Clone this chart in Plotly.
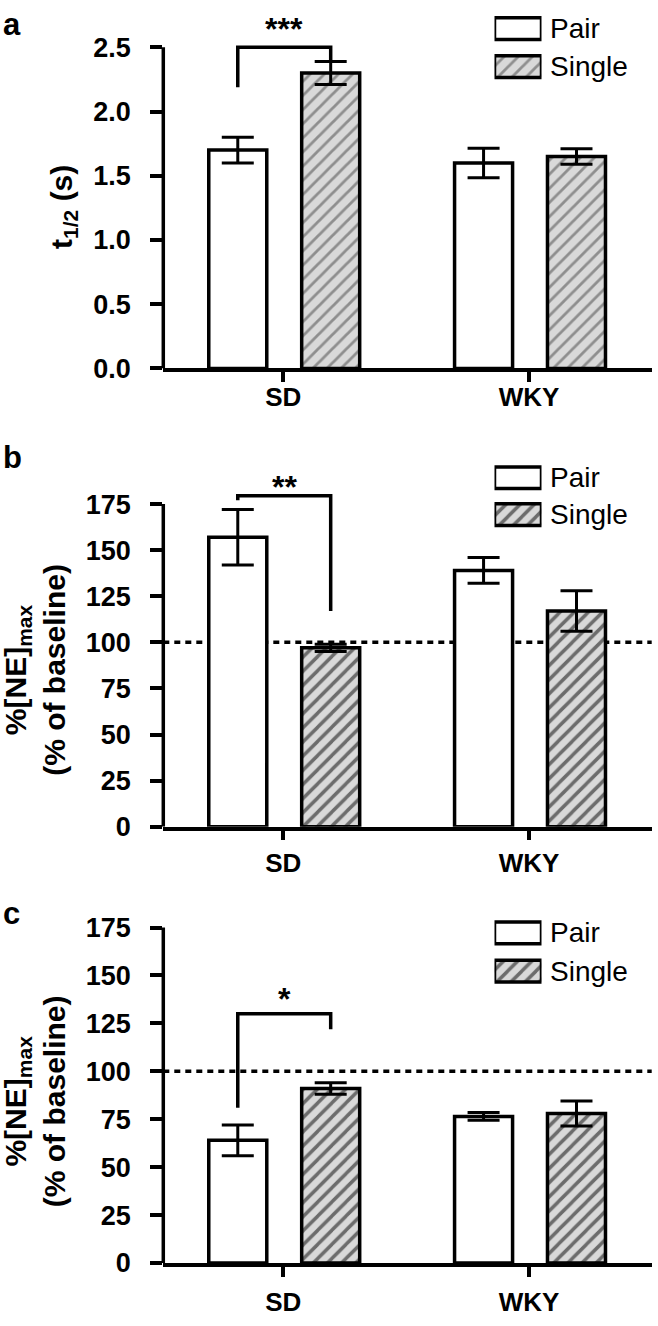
import plotly.graph_objects as go

W, H = 658, 1326

# ---------------- data ----------------
groups = ["SD", "WKY"]
group_pos = [0, 1]
series_names = ["Pair", "Single"]

# panel a : t1/2 (s)
a_pair = [1.70, 1.60]
a_pair_err = [0.10, 0.115]
a_single = [2.30, 1.65]
a_single_err = [0.09, 0.06]

# panel b : %[NE]max (% of baseline)
b_pair = [157, 139]
b_pair_err = [15, 7]
b_single = [97, 117]
b_single_err = [2, 11]

# panel c : %[NE]max (% of baseline)
c_pair = [64, 76.5]
c_pair_err = [8, 2]
c_single = [91, 78]
c_single_err = [3, 6.5]

a_ticks = [0.0, 0.5, 1.0, 1.5, 2.0, 2.5]
bc_ticks = [0, 25, 50, 75, 100, 125, 150, 175]
baseline = 100

sig_labels = ["***", "**", "*"]
# bracket: [left leg end, top, right leg end]
a_bracket = [2.19, 2.5, 2.39]
b_bracket = [177, 179.5, 117]
c_bracket = [81, 130, 122]
star_y = [2.646, 184.4, 137.8]

# ---------------- layout helpers ----------------
FONT = "Liberation Sans, Arial, sans-serif"
LW = 3.5
BW = 0.236
OFF_PAIR = -0.303
OFF_SINGLE = 0.075
C_PAIR = OFF_PAIR + BW / 2
C_SINGLE = OFF_SINGLE + BW / 2
XR = [-0.488, 1.499]
XDOM = [163.3 / W, 651.7 / W]


def py(p):
    return 1 - p / H


panels = [
    dict(letter="a", zero_px=369.0, top_px=43.0, top_val=2.5, ymax=2.8,
         pair=a_pair, pair_err=a_pair_err, single=a_single, single_err=a_single_err,
         ticks=a_ticks, fmt=".1f", bracket=a_bracket, title="t<sub>1/2</sub> (s)",
         title_xy=(64, 205), letter_y=0, legend_c=(24, 62.5), dashed=False,
         hatch_fg="#444444", hatch_sol=0.28, xstand=-7),
    dict(letter="b", zero_px=834.3, top_px=506.7, top_val=175, ymax=185,
         pair=b_pair, pair_err=b_pair_err, single=b_single, single_err=b_single_err,
         ticks=bc_ticks, fmt="d", bracket=b_bracket,
         title="%[NE]<sub>max</sub><br>(% of baseline)",
         title_xy=(35, 675), letter_y=440, legend_c=(480, 517.5), dashed=True,
         hatch_fg="#000000", hatch_sol=0.35, xstand=0),
    dict(letter="c", zero_px=1277.3, top_px=936.7, top_val=175, ymax=180,
         pair=c_pair, pair_err=c_pair_err, single=c_single, single_err=c_single_err,
         ticks=bc_ticks, fmt="d", bracket=c_bracket,
         title="%[NE]<sub>max</sub><br>(% of baseline)",
         title_xy=(35, 1113), letter_y=903, legend_c=(942, 981), dashed=True,
         hatch_fg="#000000", hatch_sol=0.35, xstand=3),
]

fig = go.Figure()
layout = dict(
    width=W, height=H, margin=dict(l=0, r=0, t=0, b=0),
    paper_bgcolor="white", plot_bgcolor="white", showlegend=False,
    font=dict(family=FONT, color="black"),
)
shapes = []
annotations = []

for i, p in enumerate(panels):
    n = i + 1
    xs = "" if n == 1 else str(n)
    xa, ya = "x" + xs, "y" + xs
    unit = (p["zero_px"] - p["top_px"]) / p["top_val"]
    dom_top_px = p["zero_px"] - p["ymax"] * unit
    ydom = [py(p["zero_px"]), py(dom_top_px)]

    pattern = dict(shape="/", bgcolor="#d9d9d9", fgcolor=p["hatch_fg"],
                   size=10, solidity=p["hatch_sol"], fillmode="overlay")

    fig.add_trace(go.Bar(
        x=group_pos, y=p["pair"], name=series_names[0], width=BW, offset=OFF_PAIR,
        marker=dict(color="white", line=dict(color="black", width=LW)),
        error_y=dict(type="data", array=p["pair_err"], color="black", thickness=3, width=16),
        xaxis=xa, yaxis=ya, hoverinfo="skip"))
    fig.add_trace(go.Bar(
        x=group_pos, y=p["single"], name=series_names[1], width=BW, offset=OFF_SINGLE,
        marker=dict(color="#d9d9d9", pattern=pattern, line=dict(color="black", width=LW)),
        error_y=dict(type="data", array=p["single_err"], color="black", thickness=3, width=16),
        xaxis=xa, yaxis=ya, hoverinfo="skip"))

    layout["xaxis" + xs] = dict(
        domain=XDOM, range=XR, anchor=ya, tickmode="array", tickvals=group_pos,
        ticktext=groups, ticks="outside", ticklen=10, tickwidth=LW, tickcolor="black",
        showline=True, linewidth=LW, linecolor="black", showgrid=False, zeroline=False,
        ticklabelstandoff=p["xstand"],
        tickfont=dict(size=26, family=FONT, weight="bold", color="black"), fixedrange=True)
    layout["yaxis" + xs] = dict(
        domain=ydom, range=[0, p["ymax"]], anchor=xa, tickmode="array", tickvals=p["ticks"],
        tickformat=p["fmt"], ticks="outside", ticklen=12, tickwidth=LW, tickcolor="black",
        showline=False, showgrid=False, zeroline=False, ticklabelstandoff=14,
        tickfont=dict(size=27, family=FONT, weight="bold", color="black"), fixedrange=True)

    # y axis line (0 .. top tick)
    shapes.append(dict(type="line", xref=xa + " domain", yref=ya, x0=0, x1=0,
                       y0=0, y1=p["ticks"][-1], line=dict(color="black", width=LW), layer="above"))
    # baseline reference line
    if p["dashed"]:
        shapes.append(dict(type="line", xref=xa + " domain", yref=ya, x0=0, x1=1,
                           y0=baseline, y1=baseline,
                           line=dict(color="black", width=LW, dash="6px,5px"), layer="below"))
    # significance bracket
    bl, bt, br = p["bracket"]
    shapes.append(dict(type="path", xref=xa, yref=ya,
                       path=f"M{C_PAIR},{bl} L{C_PAIR},{bt} L{C_SINGLE},{bt} L{C_SINGLE},{br}",
                       line=dict(color="black", width=LW), layer="above"))
    annotations.append(dict(xref=xa, yref=ya, x=(C_PAIR + C_SINGLE) / 2, y=star_y[i],
                            text=sig_labels[i], showarrow=False, xanchor="center", yanchor="middle",
                            font=dict(size=32, family=FONT, weight="bold")))

    # panel letter
    annotations.append(dict(xref="paper", yref="paper", x=1 / W, y=py(p["letter_y"]),
                            text=p["letter"], showarrow=False, xanchor="left", yanchor="top",
                            font=dict(size=31, family=FONT, weight="bold")))
    # y title
    tx, ty = p["title_xy"]
    annotations.append(dict(xref="paper", yref="paper", x=tx / W, y=py(ty), text=p["title"],
                            textangle=-90, showarrow=False, xanchor="center", yanchor="middle",
                            font=dict(size=30, family=FONT, weight="bold")))

    # legend swatches in a small inset axis
    lc_pair, lc_single = p["legend_c"]
    step = lc_single - lc_pair
    lx, ly = "x" + str(n + 3), "y" + str(n + 3)
    layout["xaxis" + str(n + 3)] = dict(domain=[494.5 / W, 541.5 / W], range=[0, 1],
                                        anchor=ly, visible=False, fixedrange=True)
    layout["yaxis" + str(n + 3)] = dict(domain=[py(lc_single + step / 2), py(lc_pair - step / 2)],
                                        range=[-0.5, 1.5], anchor=lx, visible=False, fixedrange=True)
    sw = 22 / step
    fig.add_trace(go.Bar(x=[1], y=[1], orientation="h", width=sw, cliponaxis=False,
                         marker=dict(color="white", line=dict(color="black", width=LW)),
                         xaxis=lx, yaxis=ly, hoverinfo="skip"))
    fig.add_trace(go.Bar(x=[1], y=[0], orientation="h", width=sw, cliponaxis=False,
                         marker=dict(color="#d9d9d9", pattern=pattern,
                                     line=dict(color="black", width=LW)),
                         xaxis=lx, yaxis=ly, hoverinfo="skip"))
    for name, cy in zip(series_names, [lc_pair, lc_single]):
        annotations.append(dict(xref="paper", yref="paper", x=548 / W, y=py(cy), text=name,
                                showarrow=False, xanchor="left", yanchor="middle",
                                font=dict(size=28, family=FONT)))

layout["shapes"] = shapes
layout["annotations"] = annotations
layout["barmode"] = "overlay"
fig.update_layout(**layout)
fig.write_html("out.html", config={"displayModeBar": False},
               post_script="document.body.style.margin='0';document.body.style.padding='0';")
